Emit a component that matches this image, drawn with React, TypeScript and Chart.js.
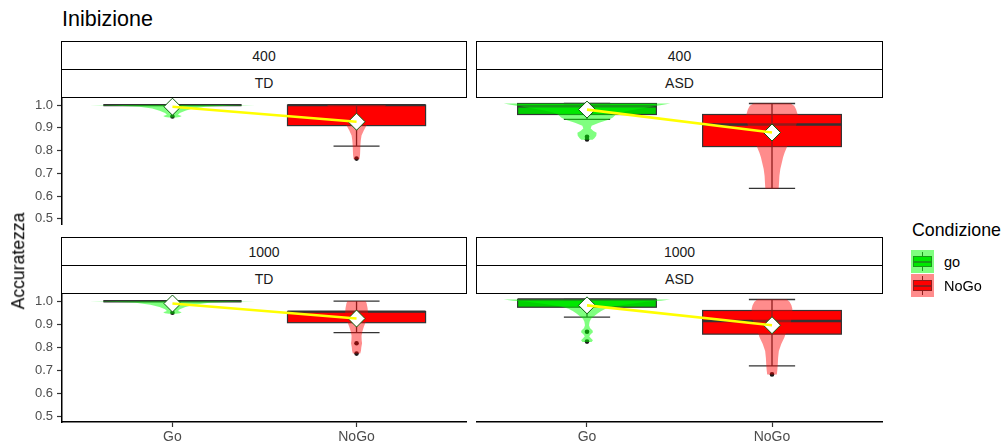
import React, { useEffect, useRef } from "react";
import { Chart, registerables } from "chart.js";

Chart.register(...registerables);

const FONT = '"Liberation Sans", Arial, Helvetica, sans-serif';

// ---------------- data ----------------
const conditions = ["Go", "NoGo"];
const legendLabels = ["go", "NoGo"];
const legendTitle = "Condizione";
const chartTitle = "Inibizione";
const yAxisTitle = "Accuratezza";
const stripTop = ["400", "400", "1000", "1000"];
const stripBottom = ["TD", "ASD", "TD", "ASD"];
const yTicks = [0.5, 0.6, 0.7, 0.8, 0.9, 1.0];
const yMin = 0.4765;
const yMax = 1.0278;

// panels: 0 = 400/TD, 1 = 400/ASD, 2 = 1000/TD, 3 = 1000/ASD ; inner [Go, NoGo]
const whiskerLow = [[1.0, 0.82], [0.932, 0.637], [1.0, 0.864], [0.925, 0.716]];
const boxQ1 = [[1.0, 0.91], [0.953, 0.816], [1.0, 0.907], [0.967, 0.852]];
const boxMedian = [[1.0, 1.0], [0.988, 0.91], [1.0, 0.955], [1.0, 0.908]];
const boxQ3 = [[1.0, 1.0], [1.0, 0.953], [1.0, 0.955], [1.0, 0.953]];
const whiskerHigh = [[1.0, 1.0], [1.0, 1.0], [1.0, 1.0], [1.0, 1.0]];
const groupMeans = [[0.993, 0.927], [0.974, 0.876], [0.99, 0.925], [0.975, 0.89]];
const outlierValues = [
  [[0.95], [0.765]],
  [[0.858, 0.846], []],
  [[0.95], [0.818, 0.773]],
  [[0.862, 0.82], [0.68]],
];

// violin outlines: [value, half width (in category units)]
const violinGo = [
  [[1.0, 0.45], [0.997, 0.3], [0.993, 0.18], [0.985, 0.11], [0.975, 0.07], [0.965, 0.04], [0.958, 0.03], [0.952, 0.05], [0.948, 0.04], [0.946, 0.02]],
  [[1.0, 0.45], [0.996, 0.42], [0.99, 0.38], [0.98, 0.3], [0.97, 0.23], [0.96, 0.18], [0.952, 0.155], [0.94, 0.14], [0.932, 0.12], [0.918, 0.065], [0.905, 0.025], [0.893, 0.02], [0.883, 0.035], [0.875, 0.052], [0.862, 0.05], [0.852, 0.04], [0.845, 0.03]],
  [[1.0, 0.45], [0.997, 0.3], [0.993, 0.2], [0.985, 0.12], [0.975, 0.07], [0.965, 0.04], [0.958, 0.03], [0.952, 0.05], [0.948, 0.04], [0.946, 0.02]],
  [[1.0, 0.45], [0.995, 0.4], [0.99, 0.32], [0.98, 0.22], [0.97, 0.14], [0.96, 0.1], [0.95, 0.075], [0.94, 0.057], [0.93, 0.04], [0.918, 0.022], [0.905, 0.014], [0.89, 0.011], [0.878, 0.016], [0.868, 0.03], [0.86, 0.032], [0.852, 0.02], [0.843, 0.012], [0.835, 0.02], [0.826, 0.032], [0.818, 0.025]],
];
const violinNoGo = [
  [[1.0, 0.16], [0.98, 0.14], [0.96, 0.11], [0.94, 0.085], [0.92, 0.065], [0.907, 0.052], [0.89, 0.04], [0.867, 0.027], [0.845, 0.023], [0.825, 0.021], [0.8, 0.02], [0.782, 0.019], [0.762, 0.016]],
  [[1.0, 0.1], [0.99, 0.12], [0.975, 0.13], [0.95, 0.14], [0.92, 0.135], [0.89, 0.125], [0.86, 0.11], [0.835, 0.095], [0.816, 0.082], [0.79, 0.068], [0.77, 0.06], [0.75, 0.054], [0.72, 0.045], [0.69, 0.04], [0.66, 0.038], [0.637, 0.036]],
  [[1.0, 0.05], [0.99, 0.055], [0.97, 0.06], [0.95, 0.062], [0.93, 0.058], [0.91, 0.05], [0.89, 0.04], [0.87, 0.032], [0.85, 0.027], [0.83, 0.028], [0.818, 0.03], [0.8, 0.026], [0.785, 0.024], [0.773, 0.02]],
  [[1.0, 0.08], [0.99, 0.095], [0.975, 0.105], [0.96, 0.11], [0.93, 0.11], [0.9, 0.1], [0.87, 0.085], [0.85, 0.072], [0.84, 0.068], [0.81, 0.05], [0.78, 0.037], [0.75, 0.033], [0.72, 0.031], [0.7, 0.029], [0.68, 0.026]],
];

// ---------------- styles ----------------
const boxFill = ["#00D000", "#FF0000"];
const violinFill = ["rgba(0,255,0,0.5)", "rgba(255,0,0,0.45)"];
const lineDark = "#333333";
const BOX_HALF = 0.375;
const CAP_HALF = 0.125;

const boxViolinPlugin = {
  id: "boxViolin",
  beforeDatasetsDraw(chart: any, _args: any, opts: any) {
    const p = opts.panel;
    const xs = chart.scales.x;
    const ys = chart.scales.y;
    const ctx = chart.ctx;
    ctx.save();
    conditions.forEach((_, c) => {
      const cx = c + 1;
      const xl = xs.getPixelForValue(cx - BOX_HALF);
      const xr = xs.getPixelForValue(cx + BOX_HALF);
      const xm = xs.getPixelForValue(cx);
      const yq1 = ys.getPixelForValue(boxQ1[p][c]);
      const yq3 = ys.getPixelForValue(boxQ3[p][c]);
      const ymed = ys.getPixelForValue(boxMedian[p][c]);
      ctx.fillStyle = boxFill[c];
      ctx.fillRect(xl, yq3, xr - xl, yq1 - yq3);
      ctx.strokeStyle = lineDark;
      ctx.lineWidth = 1.2;
      ctx.strokeRect(xl, yq3, xr - xl, yq1 - yq3);
      ctx.lineWidth = 2.4;
      ctx.beginPath();
      ctx.moveTo(xl, ymed);
      ctx.lineTo(xr, ymed);
      ctx.stroke();
      // error bar
      const ylo = ys.getPixelForValue(whiskerLow[p][c]);
      const yhi = ys.getPixelForValue(whiskerHigh[p][c]);
      const cl = xs.getPixelForValue(cx - CAP_HALF);
      const cr = xs.getPixelForValue(cx + CAP_HALF);
      ctx.lineWidth = 1.3;
      ctx.beginPath();
      ctx.moveTo(xm, yhi);
      ctx.lineTo(xm, ylo);
      ctx.moveTo(cl, yhi);
      ctx.lineTo(cr, yhi);
      ctx.moveTo(cl, ylo);
      ctx.lineTo(cr, ylo);
      ctx.stroke();
    });
    ctx.restore();
  },
  afterDatasetDraw(chart: any, args: any, opts: any) {
    if (args.index !== 0) return;
    const p = opts.panel;
    const xs = chart.scales.x;
    const ys = chart.scales.y;
    const ctx = chart.ctx;
    ctx.save();
    [violinGo[p], violinNoGo[p]].forEach((pts, c) => {
      const cx = c + 1;
      ctx.beginPath();
      pts.forEach(([v, w], i) => {
        const X = xs.getPixelForValue(cx + w);
        const Y = ys.getPixelForValue(v);
        if (i === 0) ctx.moveTo(X, Y);
        else ctx.lineTo(X, Y);
      });
      for (let i = pts.length - 1; i >= 0; i--) {
        const [v, w] = pts[i];
        ctx.lineTo(xs.getPixelForValue(cx - w), ys.getPixelForValue(v));
      }
      ctx.closePath();
      ctx.fillStyle = violinFill[c];
      ctx.fill();
    });
    ctx.restore();
  },
};

function buildConfig(p: number, showX: boolean, showY: boolean): any {
  const outliers: { x: number; y: number }[] = [];
  outlierValues[p].forEach((vals, c) => vals.forEach((v) => outliers.push({ x: c + 1, y: v })));
  const means = groupMeans[p].map((v, c) => ({ x: c + 1, y: v }));
  return {
    type: "scatter",
    data: {
      datasets: [
        {
          label: "outliers",
          data: outliers,
          pointRadius: 2.3,
          backgroundColor: "#1a1a1a",
          borderWidth: 0,
          order: 3,
          clip: false,
        },
        {
          label: "means",
          data: means,
          pointStyle: "rectRot",
          pointRadius: 8.5,
          backgroundColor: "#ffffff",
          borderColor: "#0b5e0b",
          borderWidth: 1,
          order: 2,
          clip: false,
        },
        {
          label: "meanLine",
          data: means,
          showLine: true,
          borderColor: "#FFFF00",
          borderWidth: 2.6,
          pointRadius: 0,
          order: 1,
          clip: false,
        },
      ],
    },
    options: {
      responsive: false,
      maintainAspectRatio: false,
      animation: false,
      devicePixelRatio: 1,
      events: [],
      layout: { autoPadding: false, padding: { top: 10, bottom: showX ? 0 : 10, left: 0, right: 0 } },
      plugins: {
        legend: { display: false },
        tooltip: { enabled: false },
        boxViolin: { panel: p },
      },
      scales: {
        x: {
          type: "linear",
          min: 0.4,
          max: 2.6,
          display: showX,
          afterBuildTicks: (s: any) => {
            s.ticks = conditions.map((_, i) => ({ value: i + 1 }));
          },
          afterFit: (s: any) => {
            if (showX) s.height = 25;
          },
          ticks: {
            callback: (v: any) => conditions[Math.round(Number(v)) - 1],
            color: "#4D4D4D",
            font: { family: FONT, size: 14 },
            padding: 2,
            maxRotation: 0,
            autoSkip: false,
          },
          grid: { display: true, drawOnChartArea: false, drawTicks: true, tickLength: 5, tickColor: lineDark, tickWidth: 1.2 },
          border: { display: true, color: "#000000", width: 1.5 },
        },
        y: {
          type: "linear",
          min: yMin,
          max: yMax,
          display: showY,
          afterBuildTicks: (s: any) => {
            s.ticks = yTicks.map((v) => ({ value: v }));
          },
          afterFit: (s: any) => {
            if (showY) s.width = 62;
          },
          ticks: {
            callback: (v: any) => Number(v).toFixed(1),
            color: "#4D4D4D",
            font: { family: FONT, size: 13 },
            padding: 4,
          },
          grid: { display: true, drawOnChartArea: false, drawTicks: true, tickLength: 5, tickColor: lineDark, tickWidth: 1.2 },
          border: { display: true, color: "#000000", width: 1.5 },
        },
      },
    },
    plugins: [boxViolinPlugin],
  };
}

function Panel(props: { p: number; left: number; top: number; width: number; height: number; showX: boolean; showY: boolean }) {
  const ref = useRef<HTMLCanvasElement>(null);
  useEffect(() => {
    const chart = new Chart(ref.current as HTMLCanvasElement, buildConfig(props.p, props.showX, props.showY));
    return () => chart.destroy();
  }, []);
  return (
    <canvas
      ref={ref}
      width={props.width}
      height={props.height}
      style={{ position: "absolute", left: props.left, top: props.top, width: props.width, height: props.height }}
    />
  );
}

function Strip(props: { left: number; top: number; width: number; height: number; text: string }) {
  return (
    <div
      style={{
        position: "absolute",
        left: props.left,
        top: props.top,
        width: props.width,
        height: props.height,
        boxSizing: "border-box",
        border: "1.6px solid #000",
        background: "#fff",
        display: "flex",
        alignItems: "center",
        justifyContent: "center",
        fontFamily: FONT,
        fontSize: 14,
        color: "#1A1A1A",
      }}
    >
      {props.text}
    </div>
  );
}

function LegendKey(props: { c: number; top: number }) {
  const { c, top } = props;
  return (
    <div style={{ position: "absolute", left: 911, top, width: 23, height: 23, background: "#fff" }}>
      <div style={{ position: "absolute", left: 10.9, top: 2.3, width: 1.2, height: 18.4, background: lineDark }} />
      <div
        style={{
          position: "absolute",
          left: 2.3,
          top: 5.75,
          width: 18.4,
          height: 11.5,
          background: boxFill[c],
          border: "1.2px solid " + lineDark,
          boxSizing: "border-box",
        }}
      />
      <div style={{ position: "absolute", left: 2.3, top: 10.5, width: 18.4, height: 2, background: lineDark }} />
      <div style={{ position: "absolute", left: 0, top: 0, width: 23, height: 23, background: violinFill[c] }} />
    </div>
  );
}

export default function App() {
  const colsX = [0, 476];
  const colsW = [467, 407];
  const stripX = [61, 476];
  const stripW = [406, 407];
  return (
    <div style={{ position: "absolute", left: 0, top: 0, width: 1006, height: 447, background: "#fff", overflow: "hidden" }}>
      <Panel p={0} left={colsX[0]} top={87} width={colsW[0]} height={149} showX={false} showY={true} />
      <Panel p={1} left={colsX[1]} top={87} width={colsW[1]} height={149} showX={false} showY={false} />
      <Panel p={2} left={colsX[0]} top={283} width={colsW[0]} height={164} showX={true} showY={true} />
      <Panel p={3} left={colsX[1]} top={283} width={colsW[1]} height={164} showX={true} showY={false} />

      {[0, 1].map((col) => (
        <React.Fragment key={"t" + col}>
          <Strip left={stripX[col]} top={41} width={stripW[col]} height={29.5} text={stripTop[col]} />
          <Strip left={stripX[col]} top={69} width={stripW[col]} height={28.5} text={stripBottom[col]} />
        </React.Fragment>
      ))}
      {[0, 1].map((col) => (
        <React.Fragment key={"b" + col}>
          <Strip left={stripX[col]} top={237} width={stripW[col]} height={29} text={stripTop[col + 2]} />
          <Strip left={stripX[col]} top={265} width={stripW[col]} height={28.5} text={stripBottom[col + 2]} />
        </React.Fragment>
      ))}

      <div style={{ position: "absolute", left: 62, top: 9, fontFamily: FONT, fontSize: 21.5, lineHeight: 1, color: "#000", whiteSpace: "nowrap" }}>
        {chartTitle}
      </div>
      <div
        style={{
          position: "absolute",
          left: 18.5,
          top: 261,
          transform: "translate(-50%, -50%) rotate(-90deg)",
          fontFamily: FONT,
          fontSize: 17.6,
          lineHeight: 1,
          color: "#000",
          whiteSpace: "nowrap",
        }}
      >
        {yAxisTitle}
      </div>

      <div style={{ position: "absolute", left: 912, top: 222, fontFamily: FONT, fontSize: 17.8, lineHeight: 1, color: "#000", whiteSpace: "nowrap" }}>
        {legendTitle}
      </div>
      {legendLabels.map((lab, c) => (
        <React.Fragment key={lab}>
          <LegendKey c={c} top={250 + c * 24} />
          <div
            style={{
              position: "absolute",
              left: 944,
              top: 250 + c * 24,
              height: 23,
              display: "flex",
              alignItems: "center",
              fontFamily: FONT,
              fontSize: 14.5,
              color: "#000",
              whiteSpace: "nowrap",
            }}
          >
            {lab}
          </div>
        </React.Fragment>
      ))}
    </div>
  );
}
